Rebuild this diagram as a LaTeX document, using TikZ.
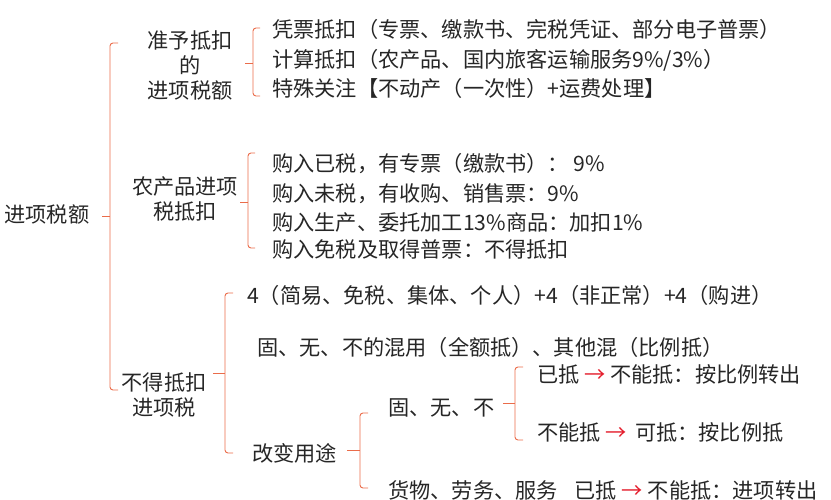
\documentclass[tikz,border=0pt]{standalone}
\usepackage{fontspec}
\setmainfont{Noto Sans CJK SC}
\usetikzlibrary{positioning}
\definecolor{bracered}{RGB}{234,108,74}
\definecolor{arrowred}{RGB}{228,30,45}
\newcommand{\redto}{\textcolor{arrowred}{→}}

\begin{document}
\begin{tikzpicture}[x=1pt,y=-1pt,
	every node/.style={inner sep=0pt,text=black!85,font=\fontsize{21.2}{25}\selectfont},
	head/.style={align=center},
	item/.style={anchor=west},
	brace/.style={draw=bracered,line width=0.9pt,rounded corners=3pt}]
	\useasboundingbox (0,0) rectangle (831,500);

	\node[head] (root) at (47,214) {进项税额};

	\node[head] (allow) at (190,65) {准予抵扣\\的\\进项税额};
	\node[item] (A1) at (272,29) {凭票抵扣（专票、缴款书、完税凭证、部分电子普票）};
	\node[item] (A2) at (272,60) {计算抵扣（农产品、国内旅客运输服务9\%/3\%）};
	\node[item] (A3) at (272,88) {特殊关注【不动产（一次性）+运费处理】};

	\node[head] (farm) at (185,199) {农产品进项\\税抵扣};
	\node[item] (B1) at (272,164) {购入已税，有专票（缴款书）： 9\%};
	\node[item] (B2) at (272,194) {购入未税，有收购、销售票：9\%};
	\node[item] (B3) at (272,222) {购入生产、委托加工13\%商品：加扣1\%};
	\node[item] (B4) at (272,249) {购入免税及取得普票：不得抵扣};

	\node[head] (deny) at (164,395) {不得抵扣\\进项税};
	\node[item] (C1) at (247,295) {4（简易、免税、集体、个人）+4（非正常）+4（购进）};
	\node[item] (C2) at (257,347) {固、无、不的混用（全额抵）、其他混（比例抵）};
	\node[item] (use) at (252,453) {改变用途};

	\node[item] (fixed) at (388,408) {固、无、不};
	\node[item] (goods) at (388,490) {货物、劳务、服务\hspace{0.8em}已抵 \redto\ 不能抵：进项转出};
	\node[item] (E1) at (537,374) {已抵 \redto\ 不能抵：按比例转出};
	\node[item] (E2) at (537,432) {不能抵 \redto\ \,可抵：按比例抵};

	% braces
	\draw[brace] (118,43) -- (110,43) -- (110,390) -- (118,390);
	\draw[brace] (102,216) -- (110,216);
	\draw[brace] (260,28) -- (253,28) -- (253,96) -- (260,96);
	\draw[brace] (245,63) -- (253,63);
	\draw[brace] (255,153) -- (248,153) -- (248,248) -- (255,248);
	\draw[brace] (240,202) -- (248,202);
	\draw[brace] (233,293) -- (225,293) -- (225,453) -- (233,453);
	\draw[brace] (213,373) -- (225,373);
	\draw[brace] (368,413) -- (360,413) -- (360,488) -- (368,488);
	\draw[brace] (347,450) -- (360,450);
	\draw[brace] (523,367) -- (515,367) -- (515,440) -- (523,440);
	\draw[brace] (503,403) -- (515,403);
\end{tikzpicture}
\end{document}
